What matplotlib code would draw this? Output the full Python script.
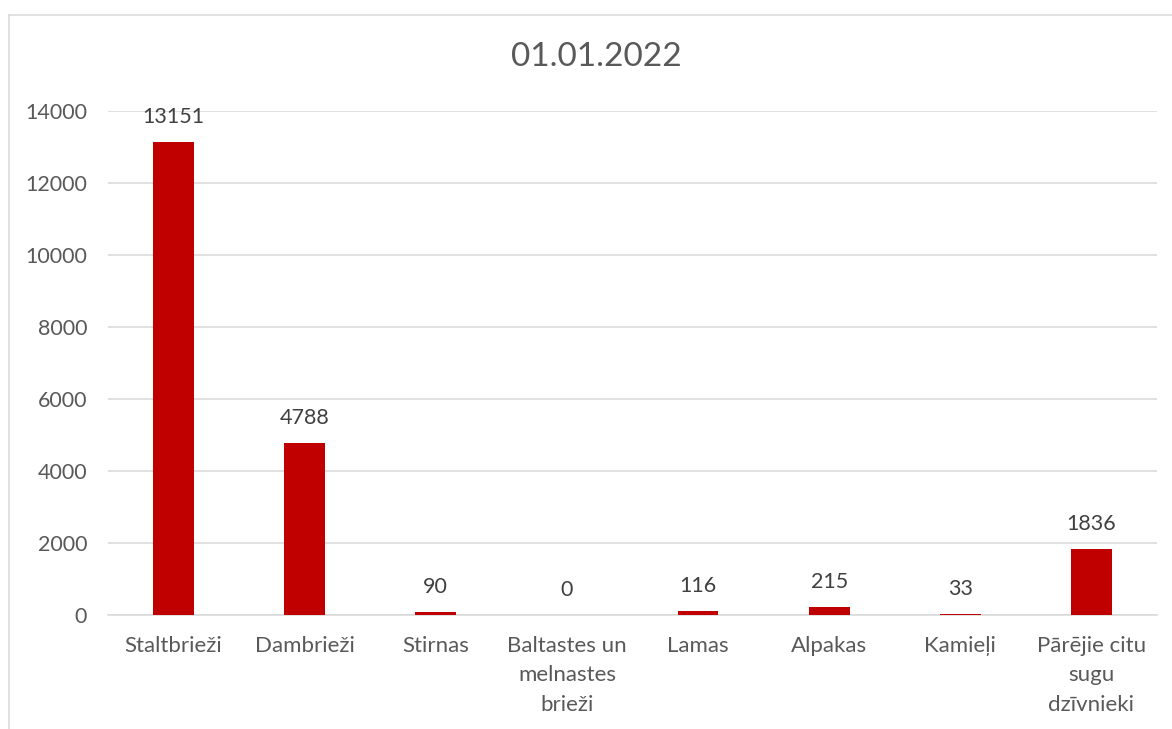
import matplotlib
matplotlib.use("Agg")
import matplotlib.pyplot as plt
from matplotlib.lines import Line2D

# data (01.01.2022)
categories = ["Staltbrieži", "Dambrieži", "Stirnas", "Baltastes un\nmelnastes\nbrieži",
              "Lamas", "Alpakas", "Kamieļi", "Pārējie citu\nsugu\ndzīvnieki"]
values = [13151, 4788, 90, 0, 116, 215, 33, 1836]
yticks = [0, 2000, 4000, 6000, 8000, 10000, 12000, 14000]

plt.rcParams['font.family'] = ['Lato', 'DejaVu Sans']

W, H = 1172, 729
fig = plt.figure(figsize=(W / 100, H / 100), dpi=100)
ax = fig.add_axes([108 / W, 1 - 615 / H, (1157 - 108) / W, (615 - 111) / H])

x = range(len(categories))
ax.bar(x, values, width=0.31, color="#c00000", zorder=3)

for i, v in enumerate(values):
    ax.annotate(str(v), (i, v), xytext=(0, 18), textcoords="offset points",
                ha="center", va="center", fontsize=15.5, color="#404040")

ax.set_xlim(-0.5, len(categories) - 0.5)
ax.set_ylim(0, 14000)
ax.set_yticks(yticks)
ax.set_xticks(list(x))
ax.set_xticklabels(categories, fontsize=16, color="#595959", linespacing=1.6)
ax.tick_params(axis="y", labelsize=15.5, labelcolor="#595959", length=0, pad=15)
ax.tick_params(axis="x", length=0, pad=15)
ax.grid(axis="y", color="#d9d9d9", linewidth=1.1, zorder=0)
for s in ["top", "right", "left"]:
    ax.spines[s].set_visible(False)
ax.spines["bottom"].set_color("#d9d9d9")
ax.spines["bottom"].set_linewidth(1.1)

fig.text(596 / W, 1 - 57 / H, "01.01.2022", ha="center", va="center",
         fontsize=24, color="#595959")

# chart border (only top and left visible in the crop)
bx, by = 8.5 / W, 1 - 14.5 / H
fig.add_artist(Line2D([bx, bx], [0, by], color="#d9d9d9", linewidth=1.1))
fig.add_artist(Line2D([bx, 1], [by, by], color="#d9d9d9", linewidth=1.1))

fig.savefig("out.png", dpi=100)
